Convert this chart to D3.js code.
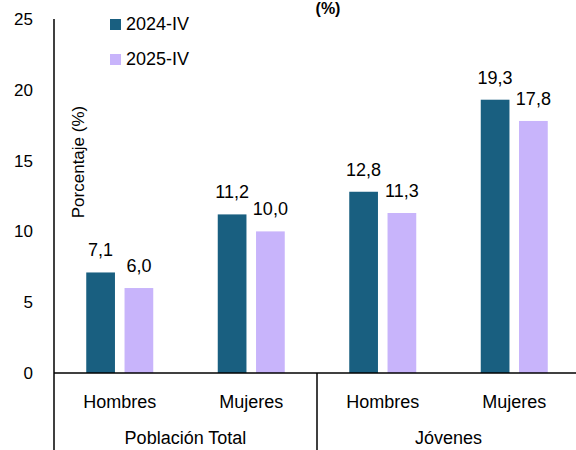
<!DOCTYPE html>
<html>
<head>
<meta charset="utf-8">
<script src="https://cdn.jsdelivr.net/npm/d3@7"></script>
<style>
  html, body { margin: 0; padding: 0; background: #fff; }
  svg { display: block; font-family: "Liberation Sans", Arial, sans-serif; }
</style>
</head>
<body>
<svg id="chart" width="576" height="450"></svg>
<script>
const groups = ["Población Total", "Jóvenes"];
const categories = ["Hombres", "Mujeres", "Hombres", "Mujeres"];
const categoryGroup = [0, 0, 1, 1];
const seriesNames = ["2024-IV", "2025-IV"];
const series2024 = [7.1, 11.2, 12.8, 19.3];
const series2025 = [6.0, 10.0, 11.3, 17.8];
const yTicks = [0, 5, 10, 15, 20, 25];
const colors = ["#195F80", "#C8B4FB"];

const svg = d3.select("#chart");
const x0 = 54, x1 = 580, yBase = 373, yTop = 19;

const idx = categories.map((d, i) => i);
const x = d3.scaleBand().domain(idx).range([x0, x1]).paddingInner(0).paddingOuter(0);
const xs = d3.scaleBand().domain([0, 1]).range([0, 67]).paddingInner(0.25);
const y = d3.scaleLinear().domain([0, 25]).range([yBase, yTop]);
const fmt = v => d3.format(".1f")(v).replace(".", ",");

// title fragment
svg.append("text").attr("x", 328).attr("y", 14).attr("text-anchor", "middle")
  .attr("font-size", 16).attr("font-weight", "bold").text("(%)");

// y tick labels
const yAxis = d3.axisLeft(y).tickValues(yTicks).tickSize(0).tickPadding(21).tickFormat(d3.format("d"));
const gy = svg.append("g").attr("transform", `translate(${x0},0)`).call(yAxis);
gy.select(".domain").remove();
gy.selectAll("text").attr("font-size", 17).attr("fill", "#000")
  .attr("font-family", "Liberation Sans, Arial, sans-serif");

// y axis title
svg.append("text").attr("transform", "translate(84,162) rotate(-90)")
  .attr("text-anchor", "middle").attr("font-size", 17).attr("fill", "#000")
  .text("Porcentaje (%)");

// bars
const data = [series2024, series2025];
data.forEach((vals, s) => {
  svg.append("g").selectAll("rect").data(vals).join("rect")
    .attr("x", (d, i) => x(i) + (x.bandwidth() - 67) / 2 + xs(s))
    .attr("width", xs.bandwidth())
    .attr("y", d => y(d))
    .attr("height", d => yBase - y(d))
    .attr("fill", colors[s]);
  svg.append("g").selectAll("text").data(vals).join("text")
    .attr("x", (d, i) => x(i) + (x.bandwidth() - 67) / 2 + xs(s) + xs.bandwidth() / 2)
    .attr("y", d => y(d) - 16)
    .attr("text-anchor", "middle").attr("font-size", 18).attr("fill", "#000")
    .text(d => fmt(d));
});

// axis lines
svg.append("line").attr("x1", x0).attr("x2", x0).attr("y1", yTop).attr("y2", 450)
  .attr("stroke", "#000").attr("stroke-width", 1.5);
svg.append("line").attr("x1", x0).attr("x2", 576).attr("y1", yBase).attr("y2", yBase)
  .attr("stroke", "#000").attr("stroke-width", 1.5);
// group separator
svg.append("line").attr("x1", x(2)).attr("x2", x(2)).attr("y1", yBase).attr("y2", 450)
  .attr("stroke", "#000").attr("stroke-width", 1.5);

// category labels
svg.append("g").selectAll("text").data(categories).join("text")
  .attr("x", (d, i) => x(i) + x.bandwidth() / 2)
  .attr("y", 408).attr("text-anchor", "middle").attr("font-size", 18).attr("fill", "#000")
  .text(d => d);

// group labels
svg.append("g").selectAll("text").data(groups).join("text")
  .attr("x", (d, g) => {
    const members = idx.filter(i => categoryGroup[i] === g);
    return (x(members[0]) + x(members[members.length - 1]) + x.bandwidth()) / 2;
  })
  .attr("y", 444).attr("text-anchor", "middle").attr("font-size", 18).attr("fill", "#000")
  .text(d => d);

// legend
const leg = svg.append("g");
seriesNames.forEach((name, s) => {
  const ly = 30 + s * 35;
  leg.append("rect").attr("x", 110).attr("y", ly - 11).attr("width", 11).attr("height", 11)
    .attr("fill", colors[s]);
  leg.append("text").attr("x", 126).attr("y", ly).attr("font-size", 18).attr("fill", "#000")
    .text(name);
});
</script>
</body>
</html>
